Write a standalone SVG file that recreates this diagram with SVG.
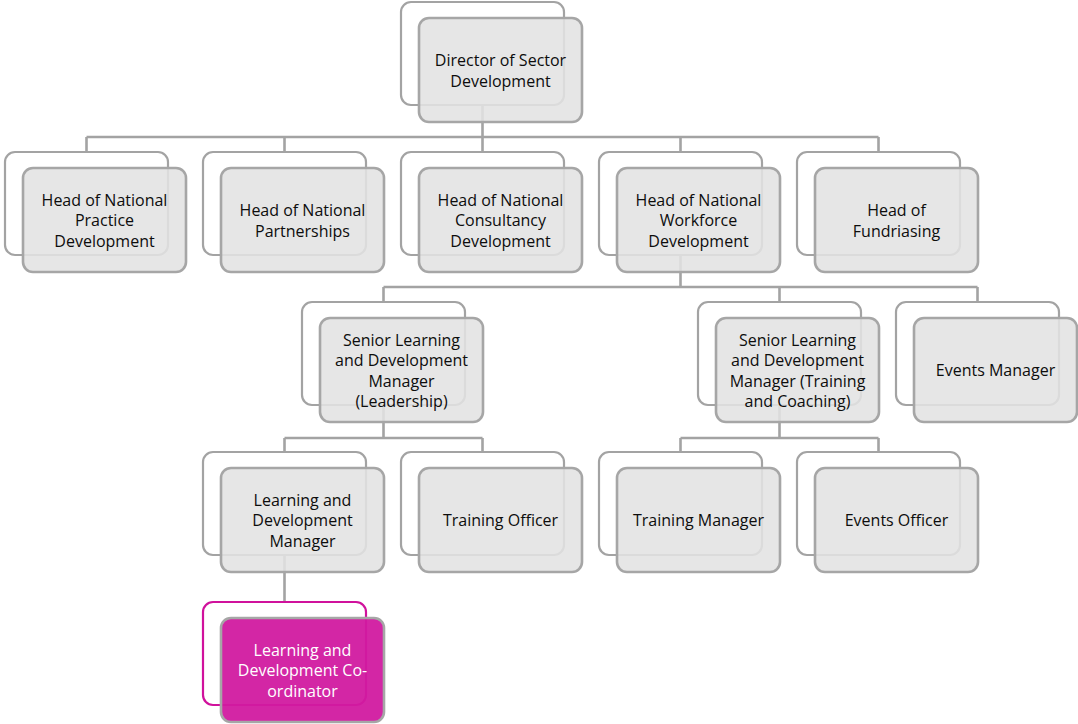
<svg xmlns="http://www.w3.org/2000/svg" width="1078" height="724" viewBox="0 0 1078 724">
  <style>
    .back { fill: none; stroke: #a3a3a3; stroke-width: 2.2; }
    .front { fill: #e2e2e2; fill-opacity: 0.88; stroke: #a6a6a6; stroke-width: 2.6; }
    .label { font-family: "Open Sans", "Liberation Sans", sans-serif; font-size: 16px; fill: #0d0d0d; text-anchor: middle; }
    .accent .back { stroke: #d0119c; }
    .accent .front { fill: #d11aa0; fill-opacity: 0.95; }
    .accent .label { fill: #ffffff; }
    .wire { fill: none; stroke: #a3a3a3; stroke-width: 2.6; }
  </style>
  <rect width="1078" height="724" fill="#ffffff"/>

  <g id="connectors" class="wire">
    <path d="M482.5,105 V137 M86.5,137 H878.5 M86.5,137 V152 M284.5,137 V152 M482.5,137 V152 M680.5,137 V152 M878.5,137 V152"/>
    <path d="M680.5,255 V287 M383.5,287 H977.5 M383.5,287 V302 M779.5,287 V302 M977.5,287 V302"/>
    <path d="M383.5,405 V438 M284.5,438 H482.5 M284.5,438 V452 M482.5,438 V452"/>
    <path d="M779.5,405 V438 M680.5,438 H878.5 M680.5,438 V452 M878.5,438 V452"/>
    <path d="M284.5,555 V602"/>
  </g>

  <g id="director">
    <rect class="back" x="401" y="2" width="163" height="103" rx="10"/>
    <rect class="front" x="419" y="18" width="163" height="104" rx="10"/>
    <text class="label" x="500.5" y="66">Director of Sector</text>
    <text class="label" x="500.5" y="86.5">Development</text>
  </g>

  <g id="head-practice">
    <rect class="back" x="5" y="152" width="163" height="103" rx="10"/>
    <rect class="front" x="23" y="168" width="163" height="104" rx="10"/>
    <text class="label" x="104.5" y="205.5">Head of National</text>
    <text class="label" x="104.5" y="226">Practice</text>
    <text class="label" x="104.5" y="246.5">Development</text>
  </g>

  <g id="head-partnerships">
    <rect class="back" x="203" y="152" width="163" height="103" rx="10"/>
    <rect class="front" x="221" y="168" width="163" height="104" rx="10"/>
    <text class="label" x="302.5" y="216">Head of National</text>
    <text class="label" x="302.5" y="236.5">Partnerships</text>
  </g>

  <g id="head-consultancy">
    <rect class="back" x="401" y="152" width="163" height="103" rx="10"/>
    <rect class="front" x="419" y="168" width="163" height="104" rx="10"/>
    <text class="label" x="500.5" y="205.5">Head of National</text>
    <text class="label" x="500.5" y="226">Consultancy</text>
    <text class="label" x="500.5" y="246.5">Development</text>
  </g>

  <g id="head-workforce">
    <rect class="back" x="599" y="152" width="163" height="103" rx="10"/>
    <rect class="front" x="617" y="168" width="163" height="104" rx="10"/>
    <text class="label" x="698.5" y="205.5">Head of National</text>
    <text class="label" x="698.5" y="226">Workforce</text>
    <text class="label" x="698.5" y="246.5">Development</text>
  </g>

  <g id="head-fundraising">
    <rect class="back" x="797" y="152" width="163" height="103" rx="10"/>
    <rect class="front" x="815" y="168" width="163" height="104" rx="10"/>
    <text class="label" x="896.5" y="216">Head of</text>
    <text class="label" x="896.5" y="236.5">Fundriasing</text>
  </g>

  <g id="senior-leadership">
    <rect class="back" x="302" y="302" width="163" height="103" rx="10"/>
    <rect class="front" x="320" y="318" width="163" height="104" rx="10"/>
    <text class="label" x="401.5" y="345.5">Senior Learning</text>
    <text class="label" x="401.5" y="366">and Development</text>
    <text class="label" x="401.5" y="386.5">Manager</text>
    <text class="label" x="401.5" y="407">(Leadership)</text>
  </g>

  <g id="senior-training">
    <rect class="back" x="698" y="302" width="163" height="103" rx="10"/>
    <rect class="front" x="716" y="318" width="163" height="104" rx="10"/>
    <text class="label" x="797.5" y="345.5">Senior Learning</text>
    <text class="label" x="797.5" y="366">and Development</text>
    <text class="label" x="797.5" y="386.5">Manager (Training</text>
    <text class="label" x="797.5" y="407">and Coaching)</text>
  </g>

  <g id="events-manager">
    <rect class="back" x="896" y="302" width="163" height="103" rx="10"/>
    <rect class="front" x="914" y="318" width="163" height="104" rx="10"/>
    <text class="label" x="995.5" y="376">Events Manager</text>
  </g>

  <g id="ld-manager">
    <rect class="back" x="203" y="452" width="163" height="103" rx="10"/>
    <rect class="front" x="221" y="468" width="163" height="104" rx="10"/>
    <text class="label" x="302.5" y="505.5">Learning and</text>
    <text class="label" x="302.5" y="526">Development</text>
    <text class="label" x="302.5" y="546.5">Manager</text>
  </g>

  <g id="training-officer">
    <rect class="back" x="401" y="452" width="163" height="103" rx="10"/>
    <rect class="front" x="419" y="468" width="163" height="104" rx="10"/>
    <text class="label" x="500.5" y="526">Training Officer</text>
  </g>

  <g id="training-manager">
    <rect class="back" x="599" y="452" width="163" height="103" rx="10"/>
    <rect class="front" x="617" y="468" width="163" height="104" rx="10"/>
    <text class="label" x="698.5" y="526">Training Manager</text>
  </g>

  <g id="events-officer">
    <rect class="back" x="797" y="452" width="163" height="103" rx="10"/>
    <rect class="front" x="815" y="468" width="163" height="104" rx="10"/>
    <text class="label" x="896.5" y="526">Events Officer</text>
  </g>

  <g id="ld-coordinator" class="accent">
    <rect class="back" x="203" y="602" width="163" height="103" rx="10"/>
    <rect class="front" x="221" y="618" width="163" height="104" rx="10"/>
    <text class="label" x="302.5" y="655.5">Learning and</text>
    <text class="label" x="302.5" y="676">Development Co-</text>
    <text class="label" x="302.5" y="696.5">ordinator</text>
  </g>
</svg>
